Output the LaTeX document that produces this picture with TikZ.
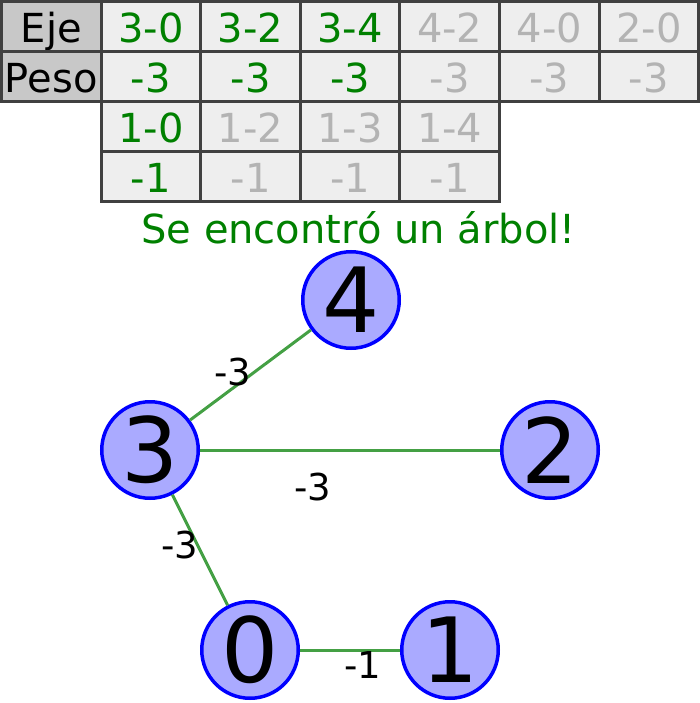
\documentclass[tikz,border=0pt]{standalone}
\usepackage{fontspec}
\setmainfont{DejaVu Sans}
\definecolor{treegreen}{HTML}{008000}
\definecolor{faded}{HTML}{B3B3B3}
\definecolor{cellgray}{HTML}{EEEEEE}
\definecolor{headgray}{HTML}{C8C8C8}
\definecolor{nodeblue}{HTML}{AAAAFF}
\definecolor{edgegreen}{HTML}{44A044}
\begin{document}
\begin{tikzpicture}[x=1pt,y=-1pt,
	cell/.style={draw=black!75, line width=3pt, fill=cellgray, minimum width=99.6pt, minimum height=50pt,
		inner sep=0pt, text height=32pt, text depth=0pt, font=\fontsize{40}{40}\selectfont},
	head/.style={cell, fill=headgray},
	vertex/.style={draw=blue, line width=3.5pt, fill=nodeblue, circle, minimum size=96.5pt, inner sep=0pt,
		font=\fontsize{90}{90}\selectfont},
	edge/.style={edgegreen, line width=3pt},
	weight/.style={inner sep=0pt, font=\fontsize{37}{38}\selectfont}]
		\useasboundingbox (0,0) rectangle (699,703);
		% tabla de ejes
		\node[head] (eje) at (51.3,26.5) {Eje};
		\node[head] (peso) at (51.3,76.5) {Peso};
		\foreach \i/\e/\w/\col in {1/3-0/-3/treegreen, 2/3-2/-3/treegreen, 3/3-4/-3/treegreen,
			4/4-2/-3/faded, 5/4-0/-3/faded, 6/2-0/-3/faded} {
			\node[cell, text=\col] (e\i) at ({51.3+99.6*\i},26.5) {\e};
			\node[cell, text=\col] (w\i) at ({51.3+99.6*\i},76.5) {\w};
		}
		\foreach \i/\e/\w/\col in {1/1-0/-1/treegreen, 2/1-2/-1/faded, 3/1-3/-1/faded, 4/1-4/-1/faded} {
			\node[cell, text=\col] (f\i) at ({51.3+99.6*\i},126.5) {\e};
			\node[cell, text=\col] (v\i) at ({51.3+99.6*\i},176.5) {\w};
		}
		\node[anchor=base, inner sep=0pt, text=treegreen, font=\fontsize{40}{40}\selectfont] (titulo) at (358.5,243.5) {Se encontró un árbol!};
		
		% grafo
		\node[vertex] (n3) at (150,450) {3};
		\node[vertex] (n4) at (351,300) {4};
		\node[vertex] (n2) at (550,450) {2};
		\node[vertex] (n0) at (250,650) {0};
		\node[vertex] (n1) at (450,650) {1};
		\draw[edge] (n3) -- (n4);
		\draw[edge] (n3) -- (n2);
		\draw[edge] (n3) -- (n0);
		\draw[edge] (n0) -- (n1);
		\node[weight] (p34) at (233,372) {-3};
		\node[weight] (p32) at (313,487) {-3};
		\node[weight] (p30) at (180,545) {-3};
		\node[weight] (p01) at (363,665) {-1};
	\end{tikzpicture}
\end{document}
